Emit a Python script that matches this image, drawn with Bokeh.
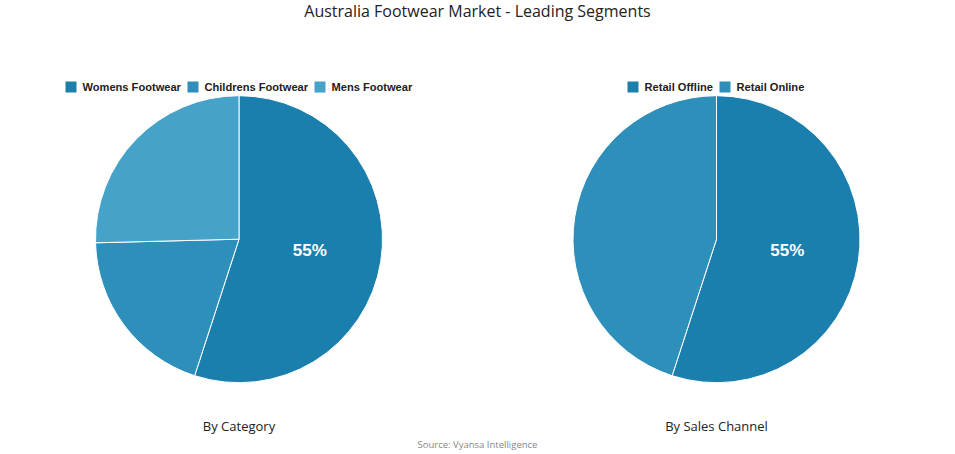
import math
from bokeh.plotting import figure
from bokeh.models import Range1d, ColumnDataSource
from bokeh.core.properties import value
from bokeh.embed import file_html
from bokeh.resources import INLINE

title = "Australia Footwear Market - Leading Segments"
source_note = "Source: Vyansa Intelligence"

cat_labels = ["Womens Footwear", "Childrens Footwear", "Mens Footwear"]
cat_values = [55, 19.6, 25.4]
cat_colors = ["#1b7fae", "#2e8fba", "#45a3c9"]
cat_title = "By Category"

ch_labels = ["Retail Offline", "Retail Online"]
ch_values = [55, 45]
ch_colors = ["#1b7fae", "#2e8fba"]
ch_title = "By Sales Channel"

W, H = 955, 454
p = figure(width=W, height=H, x_range=Range1d(0, W), y_range=Range1d(0, H),
           output_backend="svg", toolbar_location=None, min_border=0,
           x_axis_location=None, y_axis_location=None)
p.grid.visible = False
p.outline_line_color = None
p.background_fill_color = "white"

LEG_FONT = value("Liberation Sans")


def sy(screen_y):
    return H - screen_y


def sx(screen_x):
    return screen_x


def draw_pie(cx, cy, r, labels, vals, colors, sub, legend_x):
    total = float(sum(vals))
    starts, ends = [], []
    a = math.pi / 2
    for v in vals:
        starts.append(a)
        a = a - v / total * 2 * math.pi
        ends.append(a)
    src = ColumnDataSource(dict(start=starts, end=ends, color=colors))
    p.wedge(x=cx, y=cy, radius=r, start_angle="start", end_angle="end",
            direction="clock", fill_color="color", line_color="white",
            line_width=1, source=src)
    # label largest slice
    i = vals.index(max(vals))
    mid = (starts[i] + ends[i]) / 2
    p.text(x=[cx + 0.5 * r * math.cos(mid)], y=[cy + 0.5 * r * math.sin(mid)],
           text=[f"{round(vals[i])}%"], text_color="white", text_font=LEG_FONT,
           text_font_style="bold", text_font_size="17px",
           text_align="center", text_baseline="middle")
    # legend
    ly = sy(86.5)
    for lab, col, lx in zip(labels, colors, legend_x):
        p.rect(x=[lx + 5.5], y=[ly], width=11, height=11, fill_color=col,
               line_color=None)
        p.text(x=[lx + 17], y=[ly], text=[lab], text_font=LEG_FONT,
               text_font_style="bold", text_font_size="11.1px",
               text_color="#222222", text_align="left", text_baseline="middle")
    p.text(x=[cx], y=[sy(425)], text=[sub], text_font=value("Open Sans"),
           text_font_size="13px", text_color="#222222", text_align="center",
           text_baseline="middle")


draw_pie(sx(238.5), sy(238.7), 143.5, cat_labels, cat_values, cat_colors,
         cat_title, [sx(65), sx(187), sx(314)])
draw_pie(sx(716), sy(238.7), 143.5, ch_labels, ch_values, ch_colors,
         ch_title, [sx(627), sx(719)])

p.text(x=[sx(477)], y=[sy(10)], text=[title], text_font=value("Open Sans"),
       text_font_size="16px", text_color="#222222", text_align="center",
       text_baseline="middle")
p.text(x=[sx(477)], y=[sy(444)], text=[source_note],
       text_font=value("Open Sans"), text_font_size="9.5px",
       text_color="#888888", text_align="center", text_baseline="middle")

open("out.html", "w").write(file_html(p, INLINE))
